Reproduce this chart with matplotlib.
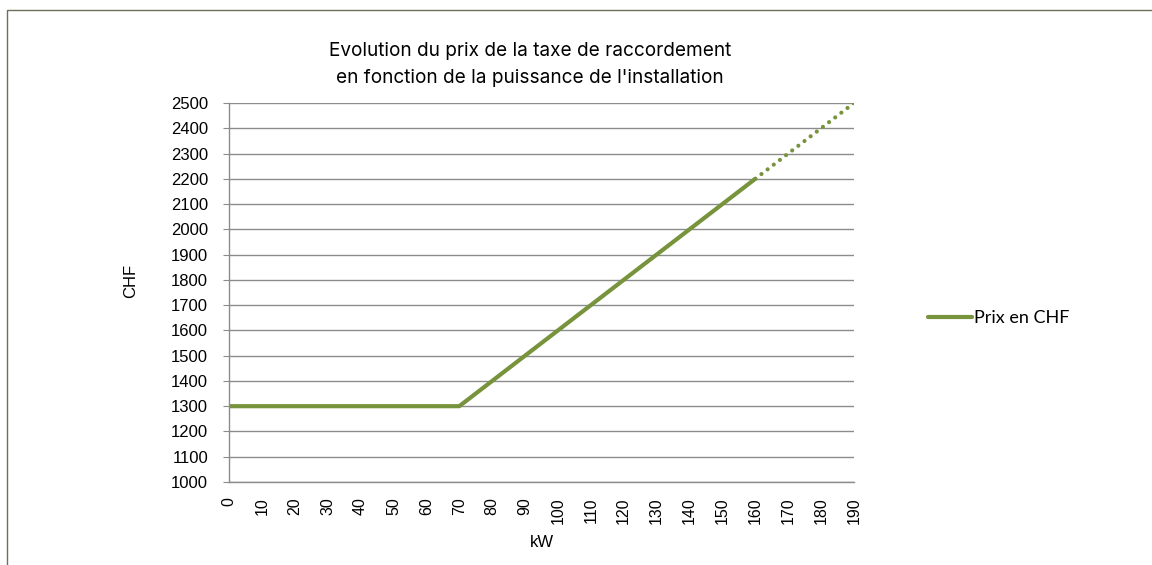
import matplotlib.pyplot as plt
from matplotlib.patches import Rectangle

# données
kw = [0, 10, 20, 30, 40, 50, 60, 70, 80, 90, 100, 110, 120, 130, 140, 150, 160, 170, 180, 190]
prix = [1300, 1300, 1300, 1300, 1300, 1300, 1300, 1300, 1400, 1500, 1600,
        1700, 1800, 1900, 2000, 2100, 2200, 2300, 2400, 2500]
n_plein = 17  # points en trait plein (0 à 160), le reste en pointillé

vert = '#77933C'

fig = plt.figure(figsize=(11.52, 5.65), dpi=100)
ax = fig.add_axes([0.1988, 0.1469, 0.5425, 0.6708])

x = list(range(len(kw)))
ax.plot(x[:n_plein], prix[:n_plein], color=vert, linewidth=3, solid_capstyle='round',
        label='Prix en CHF')
ax.plot(x[n_plein - 1:], prix[n_plein - 1:], color=vert, linewidth=3,
        linestyle=(0, (0.01, 1.85)), dash_capstyle='round')

ax.set_xlim(0, len(kw) - 1)
ax.set_ylim(1000, 2500)
ax.set_yticks(range(1000, 2501, 100))
ax.set_xticks(x)
ax.set_xticklabels([str(k) for k in kw], rotation=90, fontsize=11.5,
                   family='Liberation Sans')
for t in ax.get_yticklabels():
    t.set_family('Liberation Sans')
    t.set_fontsize(12)
ax.tick_params(axis='x', length=0, pad=11)
ax.tick_params(axis='y', length=4, color='#8c8c8c', pad=11)

ax.grid(axis='y', color='#8c8c8c', linewidth=1)
ax.set_axisbelow(True)
for s in ['top', 'right']:
    ax.spines[s].set_visible(False)
for s in ['left', 'bottom']:
    ax.spines[s].set_color('#8c8c8c')
    ax.spines[s].set_linewidth(1)

ax.set_xlabel('kW', fontsize=12, family='Liberation Sans', labelpad=8)
ax.set_ylabel('CHF', fontsize=12, family='Liberation Sans')
ax.yaxis.set_label_coords(-0.145, 0.53)

fig.text(0.46, 0.886, "Evolution du prix de la taxe de raccordement\nen fonction de la puissance de l'installation",
         ha='center', va='center', fontsize=13.7, family='Inter', linespacing=1.6)

ax.legend(loc='center left', bbox_to_anchor=(1.093, 0.433), frameon=False,
          handlelength=2.4, handletextpad=0.15, prop={'family': 'Lato', 'size': 13})

fig.patches.append(Rectangle((7 / 1152, -0.1), 1.2, 1 - 10 / 565 + 0.1, transform=fig.transFigure,
                             fill=False, edgecolor='#6e6e5a', linewidth=1))

fig.savefig('out.png', dpi=100)
